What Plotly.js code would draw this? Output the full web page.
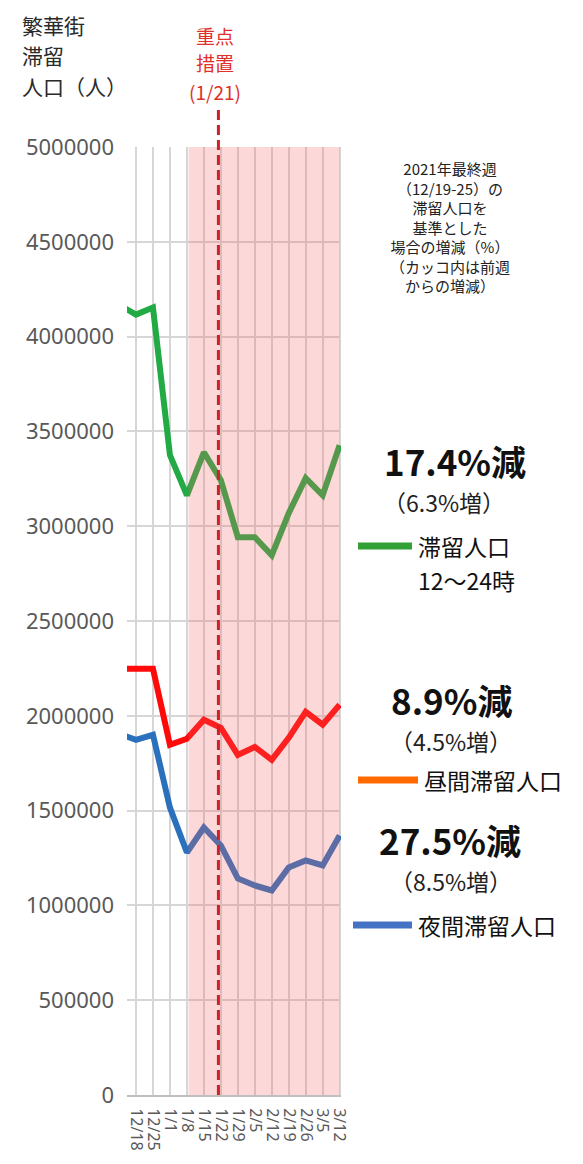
<!DOCTYPE html>
<html>
<head>
<meta charset="utf-8">
<script src="https://cdn.plot.ly/plotly-3.0.1.min.js"></script>
<style>
  html, body { margin: 0; padding: 0; background: #fff; }
  #chart { width: 583px; height: 1164px; }
</style>
</head>
<body>
<div id="chart"></div>
<script>
// weeks (first one is only partly visible at the left edge)
const weeks = ['12/11', '12/18', '12/25', '1/1', '1/8', '1/15', '1/22', '1/29', '2/5', '2/12', '2/19', '2/26', '3/5', '3/12'];

const stay12to24 = [4168000, 4116000, 4153000, 3375000, 3163000, 3390000, 3243000, 2942000, 2942000, 2847000, 3069000, 3253000, 3163000, 3427000];
const daytime    = [2248000, 2248000, 2248000, 1847000, 1879000, 1979000, 1937000, 1794000, 1836000, 1768000, 1884000, 2021000, 1953000, 2058000];
const nighttime  = [1905000, 1873000, 1900000, 1516000, 1279000, 1411000, 1316000, 1142000, 1105000, 1079000, 1200000, 1237000, 1211000, 1369000];

const seriesNames = [['滞留人口', '12～24時'], ['昼間滞留人口'], ['夜間滞留人口']];
const changeMain = ['17.4%減', '8.9%減', '27.5%減'];
const changeWeek = ['（6.3%増）', '（4.5%増）', '（8.5%増）'];

const yTitleLines = ['繁華街', '滞留', '人口（人）'];
const markerLines = ['重点', '措置', '(1/21)'];
const noteLines = ['2021年最終週', '（12/19-25）の', '滞留人口を', '基準とした', '場合の増減（%）', '（カッコ内は前週', 'からの増減）'];

const JP = '"Noto Sans CJK JP", "Noto Sans", sans-serif';

// pixel -> paper helpers (plot area is 127..341 x 147..1095)
const PX = x => (x - 127) / 214;
const PY = y => (1095 - y) / 948;

const traces = [
    { x: weeks, y: stay12to24, mode: 'lines', line: { color: '#22aa44', width: 6 }, hoverinfo: 'skip' },
    { x: weeks, y: daytime, mode: 'lines', line: { color: '#ff0a0a', width: 6 }, hoverinfo: 'skip' },
    { x: weeks, y: nighttime, mode: 'lines', line: { color: '#2a70bd', width: 6 }, hoverinfo: 'skip' }
];

const txt = (text, x, y, size, opts) => Object.assign({
    text: text, xref: 'paper', yref: 'paper', x: PX(x), y: PY(y),
    xanchor: 'center', yanchor: 'middle', showarrow: false,
    font: { family: JP, size: size, color: '#1a1a1a' }
}, opts || {});

const annotations = [
    txt(noteLines.join('<br>'), 450, 227, 15, { font: { family: JP, size: 15, color: '#222' } })
];

yTitleLines.forEach((line, i) => {
    annotations.push(txt(line, 20, 25 + i * 30.5, 21, { xanchor: 'left', font: { family: JP, size: 21, color: '#2a2a2a' } }));
});
markerLines.forEach((line, i) => {
    annotations.push(txt(line, 215, 35 + i * 28, 19, { font: { family: JP, size: 19, color: '#e0302a' } }));
});

// big change figures and weekly change below them
const mainY = [461, 699, 839];
const mainX = [455, 451, 450];
const weekY = [502, 741, 881];
const weekX = [444, 451, 451];
changeMain.forEach((t, i) => {
    annotations.push(txt('<b>' + t + '</b>', mainX[i], mainY[i], 35, { font: { family: JP, size: 35, color: '#111' } }));
    annotations.push(txt(changeWeek[i], weekX[i], weekY[i], 23, { font: { family: JP, size: 23, color: '#222' } }));
});

const legendColors = ['#33a035', '#ff6a00', '#4472c4'];
const legendX = [[358, 412], [358, 418], [353, 412]];
const legendY = [546, 780, 925];
seriesNames.forEach((lines, i) => {
    lines.forEach((line, j) => {
        annotations.push(txt(line, legendX[i][1] + 4, legendY[i] + j * 34, 23,
            { xanchor: 'left', font: { family: JP, size: 23, color: '#111' } }));
    });
});

const shapes = [
    { type: 'rect', xref: 'x', yref: 'paper', x0: 4.1, x1: 13, y0: 0, y1: 1,
      fillcolor: 'rgba(245,100,100,0.25)', line: { width: 0 }, layer: 'above' },
    { type: 'line', xref: 'x', yref: 'paper', x0: 5.857, x1: 5.857, y0: 0, y1: PY(105),
      line: { color: '#d02028', width: 3, dash: '10px,5px' }, layer: 'above' }
];
legendColors.forEach((c, i) => {
    shapes.push({ type: 'line', xref: 'paper', yref: 'paper',
        x0: PX(legendX[i][0]), x1: PX(legendX[i][1]), y0: PY(legendY[i]), y1: PY(legendY[i]),
        line: { color: c, width: 7 } });
});

const layout = {
    width: 583, height: 1164,
    margin: { l: 127, r: 242, t: 147, b: 69 },
    paper_bgcolor: '#fff', plot_bgcolor: '#fff',
    showlegend: false,
    xaxis: {
        type: 'category', range: [0.47, 13.08],
        tickmode: 'array', tickvals: weeks.slice(1), ticktext: weeks.slice(1),
        showgrid: true, gridcolor: '#d6d6d6', gridwidth: 2,
        showline: true, linecolor: '#bfbfbf', linewidth: 2,
        ticks: '', tickangle: 90, ticklabelstandoff: 8,
        tickfont: { family: '"Noto Sans", sans-serif', size: 16, color: '#595959' },
        fixedrange: true
    },
    yaxis: {
        range: [0, 5000000], dtick: 500000, tickformat: 'd',
        showgrid: true, gridcolor: '#d6d6d6', gridwidth: 2,
        zeroline: false, showline: false, ticks: '',
        ticklabelstandoff: 12,
        tickfont: { family: '"Noto Sans", sans-serif', size: 22, color: '#595959' },
        fixedrange: true
    },
    annotations: annotations,
    shapes: shapes
};

Plotly.newPlot('chart', traces, layout, { displayModeBar: false, staticPlot: true });
</script>
</body>
</html>
